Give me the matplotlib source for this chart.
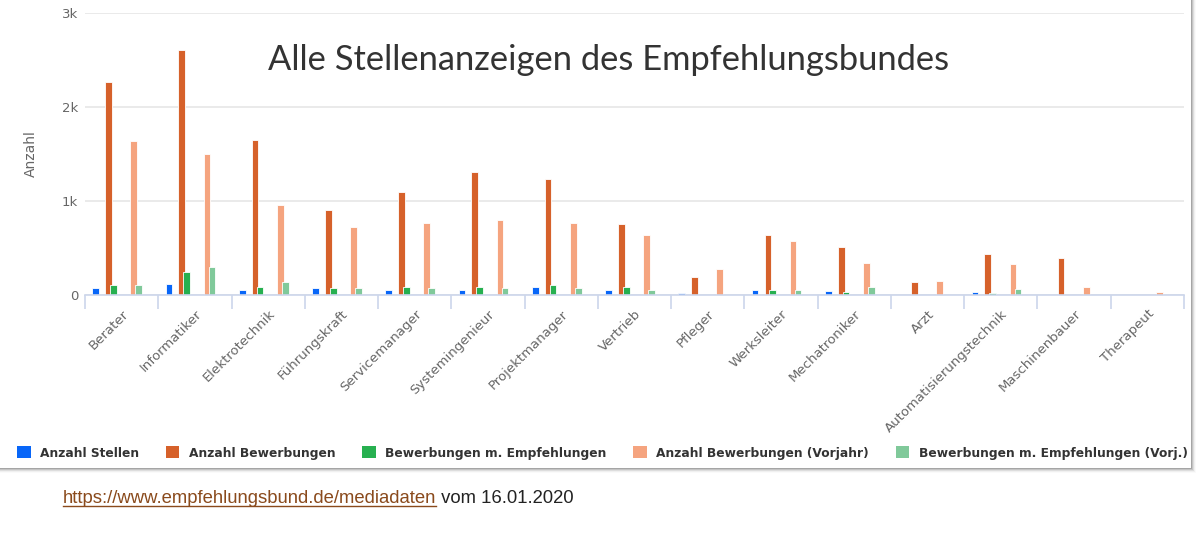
import matplotlib
matplotlib.use('Agg')
import matplotlib.pyplot as plt
import numpy as np
from matplotlib.patches import Rectangle, Patch
from matplotlib.lines import Line2D

# ---------------- data ----------------
categories = ["Berater", "Informatiker", "Elektrotechnik", "Führungskraft", "Servicemanager",
              "Systemingenieur", "Projektmanager", "Vertrieb", "Pfleger", "Werksleiter",
              "Mechatroniker", "Arzt", "Automatisierungstechnik", "Maschinenbauer", "Therapeut"]
anzahl_stellen = [70, 114, 56, 71, 56, 56, 88, 56, 20, 56, 43, 0, 30, 0, 0]
anzahl_bewerbungen = [2265, 2609, 1654, 905, 1094, 1313, 1232, 753, 195, 642, 508, 138, 440, 397, 0]
bewerbungen_empf = [103, 248, 88, 75, 88, 88, 103, 88, 0, 56, 32, 0, 21, 0, 0]
bewerbungen_vorjahr = [1637, 1502, 958, 727, 767, 795, 767, 642, 277, 575, 344, 152, 330, 85, 32]
bewerbungen_empf_vorj = [103, 295, 142, 75, 75, 75, 75, 56, 0, 56, 88, 0, 60, 0, 0]

series_names = ["Anzahl Stellen", "Anzahl Bewerbungen", "Bewerbungen m. Empfehlungen",
                "Anzahl Bewerbungen (Vorjahr)", "Bewerbungen m. Empfehlungen (Vorj.)"]
series_values = [anzahl_stellen, anzahl_bewerbungen, bewerbungen_empf,
                 bewerbungen_vorjahr, bewerbungen_empf_vorj]
colors = ["#0866f8", "#d6612a", "#27b050", "#f5a47f", "#80c99a"]
offsets = [-0.354, -0.179, -0.113, 0.165, 0.233]
bar_width = 0.092

y_ticks = [0, 1000, 2000, 3000]
y_tick_labels = ["0", "1k", "2k", "3k"]
title = "Alle Stellenanzeigen des Empfehlungsbundes"
y_label = "Anzahl"
link_text = "https://www.empfehlungsbund.de/mediadaten"
date_text = " vom 16.01.2020"

# ---------------- figure ----------------
W, H = 1200, 539
fig = plt.figure(figsize=(W / 100, H / 100), dpi=100)
fig.patch.set_facecolor("white")

def fx(px):
    return px / W

def fy(py):
    return 1 - py / H

# card + shadow
card_r, card_b = 1191, 468
for k, a in enumerate([0.30, 0.20, 0.12, 0.06, 0.03]):
    fig.add_artist(Rectangle((fx(0), fy(card_b + k + 1)), fx(card_r + k + 1), (card_b + k + 1) / H,
                             transform=fig.transFigure, facecolor="#606060", alpha=a,
                             edgecolor="none", zorder=-20))
fig.add_artist(Rectangle((0, fy(card_b)), fx(card_r), card_b / H, transform=fig.transFigure,
                         facecolor="white", edgecolor="none", zorder=-10))

ax = fig.add_axes([fx(85), fy(295), fx(1184) - fx(85), fy(13) - fy(295)])
ax.patch.set_visible(False)

n = len(categories)
x = np.arange(n) + 0.5
for i, (name, vals, col, off) in enumerate(zip(series_names, series_values, colors, offsets)):
    ax.bar(x + off, vals, width=bar_width, color=col, edgecolor="white", linewidth=0.6,
           label=name, zorder=3 + i)

ax.set_xlim(0, n)
ax.set_ylim(0, 3000)
ax.set_yticks(y_ticks)
ax.set_yticklabels(y_tick_labels)
ax.yaxis.grid(True, color="#e6e6e6", linewidth=1.2, zorder=0)
ax.set_axisbelow(True)
for s in ["top", "right", "left"]:
    ax.spines[s].set_visible(False)
ax.spines["bottom"].set_color("#ccd6eb")
ax.spines["bottom"].set_linewidth(1.2)
ax.spines["bottom"].set_zorder(10)
ax.tick_params(axis="y", length=0, pad=5, labelsize=9.5, labelcolor="#666666")

ax.set_xticks(x)
ax.set_xticklabels(categories, rotation=45, ha="right", rotation_mode="anchor",
                   fontsize=9.5, color="#666666")
ax.tick_params(axis="x", which="major", length=0, pad=9)
ax.set_xticks(np.arange(n + 1), minor=True)
ax.tick_params(axis="x", which="minor", length=10, width=1.2, color="#ccd6eb")

ax.set_ylabel(y_label, fontsize=10, color="#666666", labelpad=17)

# title
fig.text(fx(609), fy(70), title, ha="center", va="baseline", fontsize=24.8,
         family="Lato", fontweight="normal", color="#333333")

# legend
leg = fig.legend(handles=[Patch(facecolor=c, edgecolor="none") for c in colors],
                 labels=series_names, loc="center left", bbox_to_anchor=(fx(17), fy(453)),
                 ncol=5, frameon=False, fontsize=8.85, handlelength=1.1, handleheight=1.1,
                 handletextpad=0.75, columnspacing=2.2, borderpad=0, borderaxespad=0)
for txt in leg.get_texts():
    txt.set_fontweight("bold")
    txt.set_color("#333333")

# caption
c1 = fig.text(fx(63), fy(503), link_text, ha="left", va="baseline", fontsize=13.35,
              family="Liberation Sans", color="#8a4a1c")
fig.canvas.draw()
r = fig.canvas.get_renderer()
bb = c1.get_window_extent(r)
fig.text(bb.x1 / W, fy(503), date_text, ha="left", va="baseline", fontsize=13.35,
         family="Liberation Sans", color="#222222")
fig.add_artist(Line2D([bb.x0 / W, bb.x1 / W], [fy(506), fy(506)], transform=fig.transFigure,
                      color="#8a4a1c", linewidth=1))

fig.savefig("out.png", dpi=100, facecolor="white")
